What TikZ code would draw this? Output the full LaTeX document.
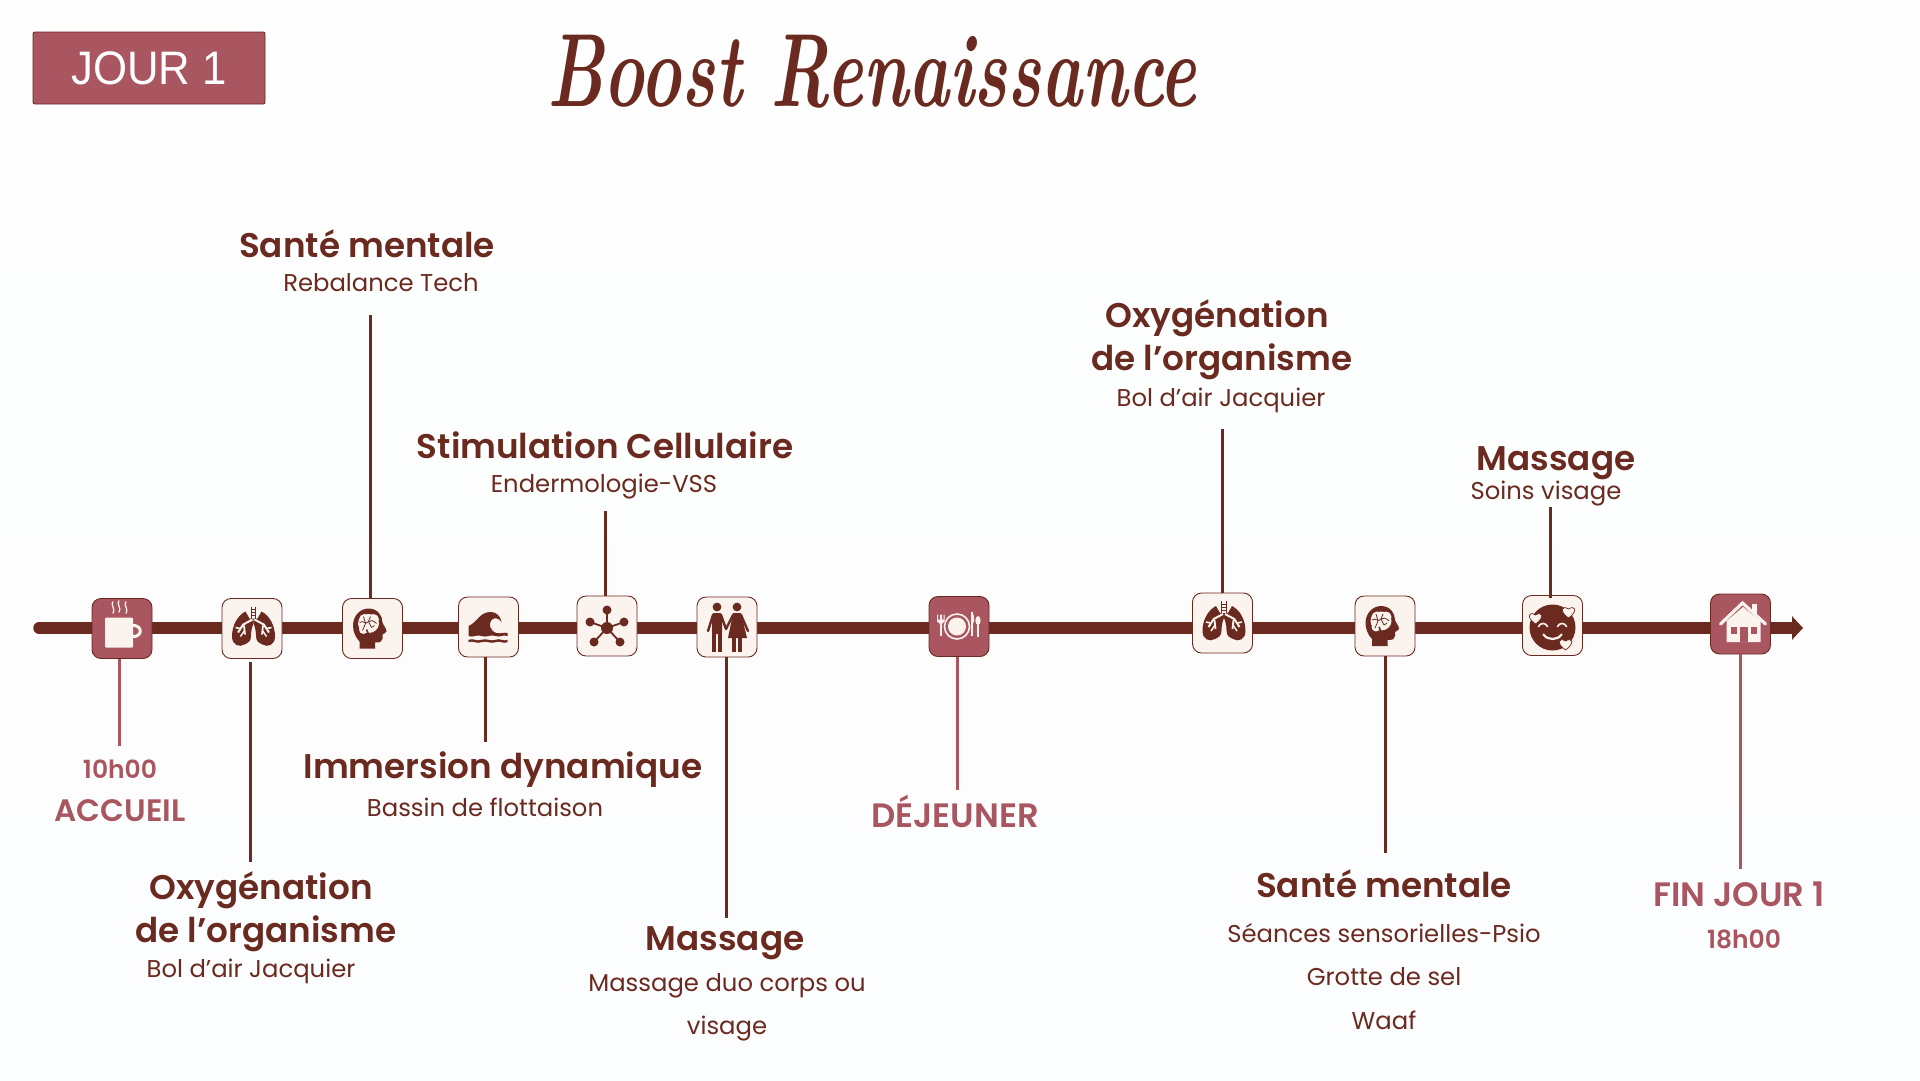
\documentclass[tikz,border=0pt]{standalone}
\usepackage{fontspec}
\usepackage{xcolor}
\usetikzlibrary{arrows.meta}
\newfontfamily\quickfont{Poppins}
\newfontfamily\quickbold{Poppins SemiBold}
\newfontfamily\jourfont{Liberation Sans}

\definecolor{darkred}{HTML}{6B2A1F}
\definecolor{rosered}{HTML}{A95660}
\definecolor{creamc}{HTML}{FBF3EE}
\definecolor{bgtop}{HTML}{FEFEFE}
\definecolor{bgmid}{HTML}{F5FBFD}
\definecolor{bgbottom}{HTML}{FCFDFE}

\tikzset{
    iconbox/.style={draw=darkred, line width=0.9pt, fill=creamc, rounded corners=9pt, minimum width=60pt, minimum height=60pt, inner sep=0pt},
    rosebox/.style={iconbox, fill=rosered},
    link/.style={draw=darkred, line width=3pt},
    roselink/.style={draw=rosered, line width=3pt},
    headlabel/.style={text=darkred, inner sep=0pt, font=\quickbold\fontsize{34.2}{34}\selectfont, text height=25pt, text depth=8pt},
    sublabel/.style={text=darkred, inner sep=0pt, font=\quickfont\fontsize{24.3}{25}\selectfont, text height=18pt, text depth=6pt},
    roselabel/.style={headlabel, text=rosered, font=\quickbold\fontsize{33.8}{34}\selectfont},
    timelabel/.style={headlabel, text=rosered, font=\quickbold\fontsize{25}{25}\selectfont}
}

% icons, drawn around the centre of a box
\newcommand{\iconcup}[1]{
    \begin{scope}[shift={(#1)}]
        \fill[creamc, rounded corners=1pt] (-17,-11) rectangle (11,19);
        \draw[creamc, line width=3pt] (10,-3) .. controls (21,-4) and (21,9) .. (10,8);
        \draw[creamc, line width=1.3pt] (-9,-27) .. controls (-12,-23) and (-6,-20) .. (-9,-15);
        \draw[creamc, line width=1.3pt] (-3,-28) .. controls (-6,-24) and (0,-21) .. (-3,-16);
        \draw[creamc, line width=1.3pt] (4,-27) .. controls (1,-23) and (7,-20) .. (4,-15);
    \end{scope}
}
\newcommand{\lunghalf}{
    \fill[darkred] (-8,-17) .. controls (-16,-13) and (-21.5,-3) .. (-21.5,8) .. controls (-21.5,17) and (-14,19) .. (-9,16)
        .. controls (-5,14) and (-2.5,13) .. (-2.5,7) .. controls (-2.5,2) and (-1,-3) .. (0,-5) -- (0,-10) -- (-4,-10) -- cycle;
    \draw[creamc, line width=2pt] (-1,-9) -- (-10.3,-4) -- (-15.5,4);
    \draw[creamc, line width=1.8pt] (-9.5,-3) -- (-8.5,6);
    \draw[creamc, line width=1.6pt] (-13.5,0) -- (-18,-1);
    \draw[creamc, line width=1.5pt] (-9,2) -- (-13,8);
}
\newcommand{\iconlungs}[1]{
    \begin{scope}[shift={(#1)}]
        \begin{scope}[xshift=1.5pt]
            \lunghalf
        \end{scope}
        \begin{scope}[xshift=1.5pt, xscale=-1]
            \lunghalf
        \end{scope}
        \draw[darkred, line width=1pt] (-0.7,-22) -- (-0.7,-10);
        \draw[darkred, line width=1pt] (3.7,-22) -- (3.7,-10);
        \draw[darkred, line width=0.9pt] (-0.7,-19) -- (3.7,-19);
        \draw[darkred, line width=0.9pt] (-0.7,-16) -- (3.7,-16);
        \draw[darkred, line width=0.9pt] (-0.7,-13) -- (3.7,-13);
    \end{scope}
}
\newcommand{\iconbrain}[1]{
    \begin{scope}[shift={(#1)}]
        \fill[darkred] (-13,20) -- (-13,13) .. controls (-17,9) and (-19.5,3) .. (-19.5,-3) .. controls (-19.5,-13) and (-12,-20) .. (-4,-20)
            .. controls (5,-20) and (10,-13) .. (10,-6) .. controls (11,-3) and (14,0) .. (14,3) .. controls (13,5) and (11,5) .. (10,6)
            -- (10,10) .. controls (10,13) and (8,14) .. (2.5,14) -- (2.5,20) -- cycle;
        \fill[creamc] (-4,-5) ellipse (10.5 and 9.5);
        \fill[creamc] (-8,-9) circle (5.5);
        \fill[creamc] (1,-9) circle (5.5);
        \fill[creamc] (-9,1) circle (4.5);
        \draw[darkred, line width=0.8pt] (-13,-6) .. controls (-9,-9) and (-7,-3) .. (-4,-7) .. controls (-2,-9) and (1,-8) .. (4,-5);
        \draw[darkred, line width=0.8pt] (-9,-12) -- (-7,-5) -- (-10,2);
        \draw[darkred, line width=0.8pt] (-2,-12) -- (-4,-7) -- (-1,-1);
        \draw[darkred, line width=0.8pt] (2,-3) -- (-1,-1);
        \draw[darkred, line width=1.6pt] (-6,1) -- (-3,8);
    \end{scope}
}
\newcommand{\iconwave}[1]{
    \begin{scope}[shift={(#1)}]
        \fill[darkred] (-20,9) -- (-20,-1) .. controls (-12,-4) and (-9,-15) .. (2,-15) .. controls (8,-15) and (12,-11) .. (13,-5)
            .. controls (10,-9) and (6,-10) .. (3,-7) .. controls (0,-4) and (1,4) .. (8,6) .. controls (12,7) and (15,5) .. (19,6) -- (19,9)
            .. controls (14,7) and (12,11) .. (7,9) .. controls (2,7) and (-2,11) .. (-7,9) .. controls (-12,7) and (-15,11) .. (-20,9) -- cycle;
        \draw[darkred, line width=2.4pt] (-20,14) .. controls (-15,12) and (-12,16) .. (-7,14) .. controls (-2,12) and (2,16) .. (7,14) .. controls (12,12) and (14,16) .. (19,14);
    \end{scope}
}
\newcommand{\iconnetwork}[1]{
    \begin{scope}[shift={(#1)}]
        \draw[darkred, line width=1.8pt] (0,2) -- (0,-16);
        \draw[darkred, line width=1.8pt] (0,2) -- (-17,-4);
        \draw[darkred, line width=1.8pt] (0,2) -- (17,-4);
        \draw[darkred, line width=1.8pt] (0,2) -- (-13,16);
        \draw[darkred, line width=1.8pt] (0,2) -- (13,16);
        \fill[darkred] (0,2) circle (6);
        \fill[darkred] (0,-16) circle (4.5);
        \fill[darkred] (-17,-4) circle (4.5);
        \fill[darkred] (17,-4) circle (4.5);
        \fill[darkred] (-13,16) circle (4.5);
        \fill[darkred] (13,16) circle (4.5);
    \end{scope}
}
\newcommand{\iconcouple}[1]{
    \begin{scope}[shift={(#1)}]
        \fill[darkred] (-10,-20) circle (4.4);
        \fill[darkred] (10,-20) circle (4.4);
        \fill[darkred, rounded corners=1.5pt] (-15,-14) rectangle (-5,7);
        \fill[darkred] (-15,5) rectangle (-11,25);
        \fill[darkred] (-9,5) rectangle (-5,25);
        \draw[darkred, line width=2.4pt, line cap=round] (-14,-12) -- (-19,4);
        \draw[darkred, line width=2.4pt, line cap=round] (-6,-12) -- (-1,2);
        \fill[darkred] (6,-14) -- (14,-14) -- (20,11) -- (1,11) -- cycle;
        \fill[darkred] (5,10) rectangle (9,25);
        \fill[darkred] (11,10) rectangle (15,25);
        \draw[darkred, line width=2.4pt, line cap=round] (6,-12) -- (-1,2);
        \draw[darkred, line width=2.4pt, line cap=round] (14,-12) -- (21,4);
    \end{scope}
}
\newcommand{\iconplate}[1]{
    \begin{scope}[shift={(#1)}]
        \draw[creamc, line width=1.6pt] (-2,0) circle (12.5);
        \fill[creamc] (-2,0) circle (9);
        \draw[creamc, line width=1.5pt] (-18,-3) -- (-18,9);
        \fill[creamc] (-22,-12) -- (-21,-12) -- (-21,-7) -- (-19,-7) -- (-19,-12) -- (-17,-12) -- (-17,-7) -- (-15.5,-7) -- (-15.5,-12) -- (-14.5,-12) -- (-14.5,-5) -- (-18,-2) -- (-22,-5) -- cycle;
        \draw[creamc, line width=1.6pt] (13,-15) -- (13,9);
        \fill[creamc] (13,-15) .. controls (16,-10) and (16,-4) .. (13,-2) -- cycle;
        \draw[creamc, line width=1.6pt] (19,-3) -- (19,10);
        \fill[creamc] (19,-6) ellipse (2.6 and 4.5);
    \end{scope}
}
\newcommand{\iconheart}[1]{
    \filldraw[fill=creamc, draw=darkred, line width=0.7pt, shift={(#1)}] (0,6.5) .. controls (-9.5,0) and (-7,-7) .. (0,-2.5) .. controls (7,-7) and (9.5,0) .. (0,6.5) -- cycle;
}
\newcommand{\iconsmile}[1]{
    \begin{scope}[shift={(#1)}]
        \fill[darkred] (0,2) circle (23);
        \iconheart{-17,-8}
        \iconheart{16,-14}
        \iconheart{13,18}
        \draw[creamc, line width=1.6pt, line cap=round] (-14,1) .. controls (-12,-3) and (-7,-3) .. (-5,1);
        \draw[creamc, line width=1.6pt, line cap=round] (5,1) .. controls (7,-3) and (12,-3) .. (14,1);
        \draw[creamc, line width=2.2pt, line cap=round] (-9,9) .. controls (-5,15) and (5,15) .. (9,9);
    \end{scope}
}
\newcommand{\iconhouse}[1]{
    \begin{scope}[shift={(#1)}]
        \fill[creamc] (11,-20) rectangle (16,-10);
        \draw[creamc, line width=3.2pt, line cap=round] (-20,0) -- (2,-21) -- (25,0);
        \fill[creamc] (-14,-3) -- (2.5,-17) -- (20,-3) -- (20,18) -- (-14,18) -- cycle;
        \fill[rosered] (-10,3) rectangle (-4,10);
        \fill[rosered] (10,3) rectangle (16,10);
        \fill[rosered] (-1,3) rectangle (7,18);
    \end{scope}
}

\begin{document}
\begin{tikzpicture}[x=1pt, y=-1pt]
    \useasboundingbox (0,0) rectangle (1920,1080);
    \shade[top color=bgtop, middle color=bgmid, bottom color=bgbottom] (0,0) rectangle (1920,1080);

    % header
    \node[rosebox, rounded corners=2pt, minimum width=232pt, minimum height=72pt] (jour) at (149,68) {};
    \node[text=white, inner sep=0pt, font=\jourfont\fontsize{47}{47}\selectfont, xscale=0.93, transform shape] (jourtext) at (149,68) {JOUR 1};
    \node[text=darkred, inner sep=0pt, font=\bfseries\itshape\fontsize{104}{104}\selectfont, xscale=0.666, transform shape] (title) at (872,72) {Boost Renaissance};

    % time line
    \coordinate (start) at (39,628);
    \coordinate (tip) at (1803,628);
    \draw[darkred, line width=11.5pt, line cap=round, -{Triangle[length=11pt, width=23pt]}] (start) -- (tip);

    % boxes
    \node[rosebox] (cupbox) at (122,628.5) {};
    \node[iconbox] (lungsbox) at (252,628.5) {};
    \node[iconbox] (brainbox) at (372.5,628.5) {};
    \node[iconbox] (wavebox) at (488.5,627) {};
    \node[iconbox] (networkbox) at (607,626) {};
    \node[iconbox] (couplebox) at (727,627) {};
    \node[rosebox] (platebox) at (959,626.5) {};
    \node[iconbox] (lungstwobox) at (1222.5,623) {};
    \node[iconbox] (braintwobox) at (1385,626) {};
    \node[iconbox] (smilebox) at (1552.5,625.5) {};
    \node[rosebox] (housebox) at (1740.5,624) {};

    \iconcup{cupbox.center}
    \iconlungs{lungsbox.center}
    \iconbrain{brainbox.center}
    \iconwave{wavebox.center}
    \iconnetwork{networkbox.center}
    \iconcouple{couplebox.center}
    \iconplate{platebox.center}
    \iconlungs{lungstwobox.center}
    \iconbrain{braintwobox.center}
    \iconsmile{smilebox.center}
    \iconhouse{housebox.center}

    % free ends of the connectors
    \coordinate (cupend) at (119.5,746);
    \coordinate (lungstop) at (250,662);
    \coordinate (lungsend) at (250,862);
    \coordinate (brainend) at (370,315);
    \coordinate (waveend) at (485,742);
    \coordinate (networkend) at (605,511);
    \coordinate (coupleend) at (726,918);
    \coordinate (plateend) at (957.5,790);
    \coordinate (lungstwoend) at (1222,429);
    \coordinate (braintwoend) at (1385,853);
    \coordinate (smileend) at (1550,507);
    \coordinate (smilefoot) at (1550,598);
    \coordinate (houseend) at (1740,869);

    \draw[roselink] (cupend |- cupbox.south) -- (cupend);
    \draw[link] (lungstop) -- (lungsend);
    \draw[link] (brainend |- brainbox.north) -- (brainend);
    \draw[link] (waveend |- wavebox.south) -- (waveend);
    \draw[link] (networkend |- networkbox.north) -- (networkend);
    \draw[link] (coupleend |- couplebox.south) -- (coupleend);
    \draw[roselink] (plateend |- platebox.south) -- (plateend);
    \draw[link] (lungstwoend |- lungstwobox.north) -- (lungstwoend);
    \draw[link] (braintwoend |- braintwobox.south) -- (braintwoend);
    \draw[link] (smilefoot) -- (smileend);
    \draw[roselink] (houseend |- housebox.south) -- (houseend);

    % labels above the line
    \node[headlabel] (santeA) at (367,249) {Santé mentale};
    \node[sublabel] (santeAsub) at (381,285) {Rebalance Tech};
    \node[headlabel] (stim) at (605,450) {Stimulation Cellulaire};
    \node[sublabel] (stimsub) at (604,486) {Endermologie-VSS};
    \node[headlabel] (oxyBa) at (1217,319) {Oxygénation};
    \node[headlabel] (oxyBb) at (1222,362) {de l’organisme};
    \node[sublabel] (oxyBsub) at (1221,400) {Bol d’air Jacquier};
    \node[headlabel] (massB) at (1556,462) {Massage};
    \node[sublabel] (massBsub) at (1546,493) {Soins visage};

    % labels below the line
    \node[timelabel] (heureA) at (120,770) {10h00};
    \node[roselabel, font=\quickbold\fontsize{31}{31}\selectfont] (accueil) at (120,813) {ACCUEIL};
    \node[headlabel] (oxyAa) at (261,891) {Oxygénation};
    \node[headlabel] (oxyAb) at (266,934) {de l’organisme};
    \node[sublabel] (oxyAsub) at (251,971) {Bol d’air Jacquier};
    \node[headlabel] (immer) at (503,770) {Immersion dynamique};
    \node[sublabel] (immersub) at (485,810) {Bassin de flottaison};
    \node[headlabel] (massA) at (725,942) {Massage};
    \node[sublabel] (massAa) at (727,985) {Massage duo corps ou};
    \node[sublabel] (massAb) at (727,1028) {visage};
    \node[roselabel] (dejeuner) at (955,819) {DÉJEUNER};
    \node[headlabel] (santeB) at (1384,889) {Santé mentale};
    \node[sublabel] (santeBa) at (1384,936) {Séances sensorielles-Psio};
    \node[sublabel] (santeBb) at (1384,979) {Grotte de sel};
    \node[sublabel] (santeBc) at (1384,1023) {Waaf};
    \node[roselabel] (fin) at (1739,898) {FIN JOUR 1};
    \node[timelabel] (heureB) at (1744,940) {18h00};
\end{tikzpicture}
\end{document}
